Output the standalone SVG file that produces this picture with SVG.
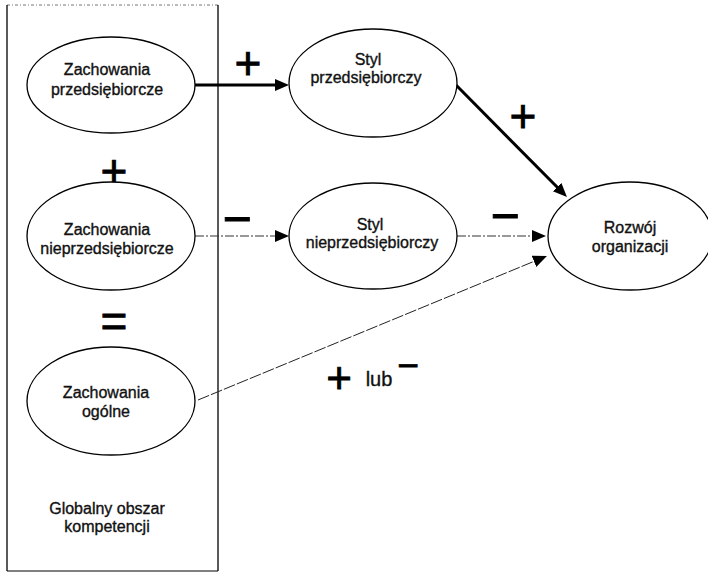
<svg xmlns="http://www.w3.org/2000/svg" width="708" height="572" viewBox="0 0 708 572">
<defs>
<style>
.node ellipse{fill:#fff;stroke:#000;stroke-width:1.3}
.lbl{font-family:"Liberation Sans",Arial,sans-serif;font-size:16px;fill:#111;stroke:#111;stroke-width:0.35;text-anchor:middle}
.sym{font-family:"Liberation Sans",Arial,sans-serif;fill:#000;stroke:#000;stroke-width:0.8;text-anchor:middle}
.thick{fill:none;stroke:#000;stroke-width:3}
.thin{fill:none;stroke:#333;stroke-width:1;stroke-dasharray:9 2 2 2}
.thin2{fill:none;stroke:#222;stroke-width:1;stroke-dasharray:12 2}
</style>
<marker id="ah" markerUnits="userSpaceOnUse" markerWidth="16" markerHeight="14" refX="1" refY="6" orient="auto">
<path d="M0,0 L14,6 L0,12 z" fill="#000"/>
</marker>
</defs>
<rect width="708" height="572" fill="#fff"/>
<g id="box">
<line x1="7" y1="5" x2="218" y2="5" stroke="#777" stroke-width="1" stroke-dasharray="3 2 1 2"/>
<line x1="7" y1="5" x2="7" y2="571" stroke="#000" stroke-width="1.3"/>
<line x1="218" y1="5" x2="218" y2="571" stroke="#000" stroke-width="1.3"/>
<line x1="7" y1="571" x2="218" y2="571" stroke="#000" stroke-width="1"/>
<text class="lbl" x="107" y="514">Globalny obszar</text>
<text class="lbl" x="107" y="532">kompetencji</text>
</g>
<g id="connectors">
<line class="thick" x1="195" y1="85" x2="276" y2="85" marker-end="url(#ah)"/>
<line class="thick" x1="456" y1="85" x2="557.8" y2="187.8" marker-end="url(#ah)"/>
<line class="thin" x1="195" y1="236" x2="276" y2="236" marker-end="url(#ah)"/>
<line class="thin" x1="457" y1="236" x2="533" y2="236" marker-end="url(#ah)"/>
<line class="thin2" x1="198" y1="400" x2="534.9" y2="261" marker-end="url(#ah)"/>
</g>
<g id="signs">
<text class="sym" x="248" y="79" font-size="46">+</text>
<text class="sym" x="114" y="187" font-size="46">+</text>
<text class="sym" x="114" y="337" font-size="46">=</text>
<text class="sym" x="523" y="132" font-size="46">+</text>
<text class="sym" x="237" y="236" font-size="50">−</text>
<text class="sym" x="505" y="233" font-size="50">−</text>
<text class="sym" x="339" y="393" font-size="44">+</text>
<text class="lbl" x="379" y="386" style="font-size:20px">lub</text>
<text class="sym" x="408" y="378" font-size="37">−</text>
</g>
<g id="n1" class="node">
<ellipse cx="111" cy="85" rx="84" ry="48"/>
<text class="lbl" x="107" y="75">Zachowania</text>
<text class="lbl" x="107" y="95">przedsiębiorcze</text>
</g>
<g id="n2" class="node">
<ellipse cx="111" cy="236" rx="84" ry="54"/>
<text class="lbl" x="107" y="235">Zachowania</text>
<text class="lbl" x="107" y="254">nieprzedsiębiorcze</text>
</g>
<g id="n3" class="node">
<ellipse cx="111" cy="401" rx="84" ry="54"/>
<text class="lbl" x="106" y="398">Zachowania</text>
<text class="lbl" x="106" y="417">ogólne</text>
</g>
<g id="n4" class="node">
<ellipse cx="373" cy="83" rx="84" ry="54"/>
<text class="lbl" x="368" y="65">Styl</text>
<text class="lbl" x="366" y="83">przedsiębiorczy</text>
</g>
<g id="n5" class="node">
<ellipse cx="373" cy="236" rx="84" ry="53"/>
<text class="lbl" x="370" y="230">Styl</text>
<text class="lbl" x="372" y="248">nieprzedsiębiorczy</text>
</g>
<g id="n6" class="node">
<ellipse cx="630" cy="236" rx="82" ry="54"/>
<text class="lbl" x="630" y="233">Rozwój</text>
<text class="lbl" x="630" y="252">organizacji</text>
</g>
</svg>
